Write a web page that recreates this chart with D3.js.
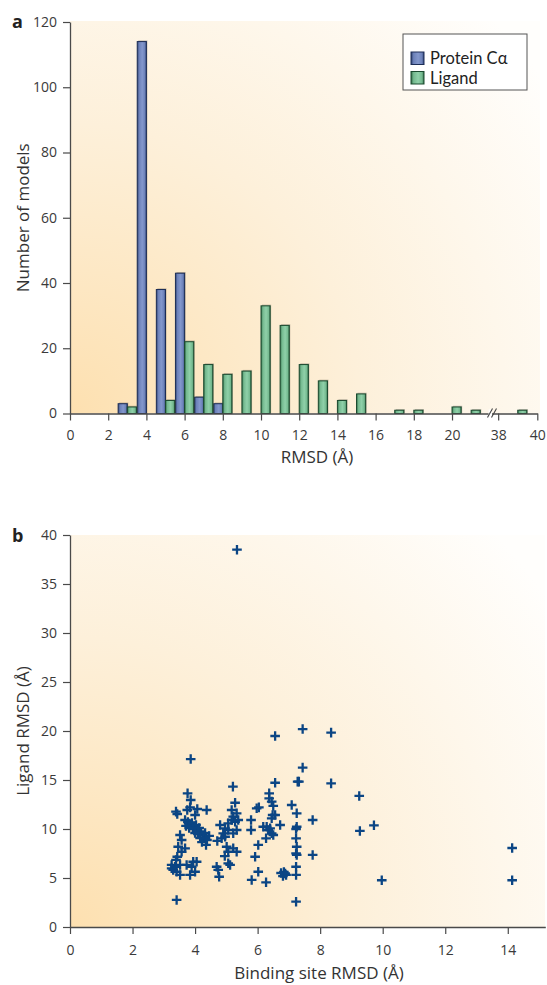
<!DOCTYPE html>
<html>
<head>
<meta charset="utf-8">
<script src="https://cdn.jsdelivr.net/npm/d3@7"></script>
<style>
  body { margin: 0; background: #fff; }
  svg { display: block; font-family: "Open Sans", sans-serif; }
</style>
</head>
<body>
<svg id="fig" width="547" height="985"></svg>
<script>
(function(){
// --- Data: panel a (histogram) ---
const proteinBins = [3, 4, 5, 6, 7, 8];
const proteinCounts = [3, 114, 38, 43, 5, 3];
const ligandBins = [3, 5, 6, 7, 8, 9, 10, 11, 12, 13, 14, 15, 17, 18, 20, 21, 39];
const ligandCounts = [2, 4, 22, 15, 12, 13, 33, 27, 15, 10, 4, 6, 1, 1, 2, 1, 1];
const histXTicks = [0, 2, 4, 6, 8, 10, 12, 14, 16, 18, 20, 38, 40];
const histYTicks = [0, 20, 40, 60, 80, 100, 120];
const legendLabels = ["Protein C\u03b1", "Ligand"];

// --- Data: panel b (scatter) ---
const siteRmsd = [
  3.86, 5.21, 3.76, 3.86, 5.28, 3.39, 3.43, 3.75, 3.84, 4.07, 4.37, 4.00,
  3.68, 3.77, 3.84, 3.90, 3.97, 4.03, 3.93, 4.06, 4.13, 4.19, 4.09, 4.25, 4.32, 4.29, 4.38, 4.22, 4.35, 4.45, 4.16, 4.00, 3.81, 3.71,
  5.17, 5.22, 5.33, 5.17, 5.28, 5.06, 5.38, 4.80, 4.96, 5.06, 4.90, 4.85, 4.96, 5.33, 5.22, 4.71, 5.01, 5.22, 5.33, 5.06, 4.95, 5.06, 5.12, 4.69, 4.74, 4.77,
  3.52, 3.57, 3.46, 3.68, 3.57, 3.43, 3.39,
  3.25, 3.36, 3.52, 3.30, 3.41, 3.52, 3.25, 3.94, 4.05, 3.89, 4.00, 3.84, 3.73, 3.41,
  6.56, 7.44, 8.35, 7.44, 6.56, 7.28, 7.32, 8.35, 9.25, 6.37, 6.37, 6.45, 5.97, 6.04, 6.50, 7.09, 7.25, 6.48, 6.56, 6.45,
  7.76, 5.79, 5.79, 6.72, 6.18, 6.29, 6.34, 6.40, 6.45, 6.50, 6.27, 7.25, 7.23, 7.76, 7.23, 7.25, 7.23, 7.25, 7.23, 7.23,
  6.75, 6.84, 6.91, 6.81, 6.88, 6.02, 5.92, 6.02, 5.81, 6.27, 7.23,
  9.27, 9.72, 9.97, 14.14, 14.14, 5.34
];
const ligandRmsd = [
  17.14, 14.32, 13.64, 12.96, 12.68, 11.77, 11.53, 11.94, 12.21, 12.04, 11.94, 11.43,
  10.92, 10.71, 10.51, 10.61, 10.31, 10.41, 10.0, 9.9, 10.1, 9.69, 9.49, 9.39, 9.59, 9.08, 8.88, 8.67, 8.37, 9.29, 9.08, 9.59, 10.1, 10.31,
  11.94, 11.26, 11.6, 10.92, 10.74, 10.58, 10.92, 10.41, 10.07, 9.9, 9.56, 9.05, 9.21, 9.9, 9.56, 8.78, 8.19, 8.03, 7.68, 7.68, 7.24, 6.5, 6.33, 6.15, 5.82, 5.13,
  9.39, 8.88, 8.19, 8.03, 7.68, 7.17, 6.84,
  6.33, 6.15, 6.33, 5.82, 5.64, 5.31, 5.99, 6.66, 6.66, 6.15, 5.64, 5.31, 6.33, 2.76,
  19.49, 20.2, 19.83, 16.26, 14.72, 14.83, 14.83, 14.66, 13.37, 13.64, 13.13, 12.79, 12.11, 12.21, 12.35, 12.45, 11.6, 11.43, 11.43, 11.09,
  10.92, 10.92, 9.9, 10.41, 10.23, 10.23, 9.9, 10.07, 9.56, 9.39, 9.05, 10.23, 10.0, 7.35, 9.05, 8.19, 7.52, 7.35, 6.15, 5.31,
  5.51, 5.61, 5.31, 5.2, 5.46, 8.37, 7.17, 5.64, 4.8, 4.56, 2.58,
  9.8, 10.38, 4.77, 8.06, 4.77, 38.5
];
const scatterXTicks = [0, 2, 4, 6, 8, 10, 12, 14];
const scatterYTicks = [0, 5, 10, 15, 20, 25, 30, 35, 40];

const svg = d3.select("#fig");
const defs = svg.append("defs");

// --- Gradients ---
function bgGradient(id, cx, cy) {
  const g = defs.append("radialGradient").attr("id", id)
    .attr("gradientUnits", "userSpaceOnUse")
    .attr("cx", cx).attr("cy", cy).attr("r", 580);
  g.append("stop").attr("offset", 0).attr("stop-color", "#fde0b0");
  g.append("stop").attr("offset", 0.5).attr("stop-color", "#fdf0da");
  g.append("stop").attr("offset", 1).attr("stop-color", "#fffefc");
}
bgGradient("bgA", 70, 414);
bgGradient("bgB", 70, 927);

function barGradient(id, edge, mid, light) {
  const g = defs.append("linearGradient").attr("id", id)
    .attr("x1", 0).attr("x2", 1).attr("y1", 0).attr("y2", 0);
  g.append("stop").attr("offset", 0).attr("stop-color", edge);
  g.append("stop").attr("offset", 0.2).attr("stop-color", mid);
  g.append("stop").attr("offset", 0.55).attr("stop-color", light);
  g.append("stop").attr("offset", 0.85).attr("stop-color", mid);
  g.append("stop").attr("offset", 1).attr("stop-color", edge);
}
barGradient("gBlue", "#2a3d6e", "#6c81b9", "#8397cc");
barGradient("gGreen", "#2f6a47", "#74b98f", "#8fd0a9");

// =================== Panel a ===================
const a = { left: 70, right: 537, top: 22, bottom: 413.5 };

const xA = d3.scaleLinear()
  .domain([0, 21.8, 37.7, 40])
  .range([70, 486.4, 492.3, 537.3]);
const yA = d3.scaleLinear().domain([0, 120]).range([a.bottom, a.top]);

svg.append("rect")
  .attr("x", a.left).attr("y", a.top - 1)
  .attr("width", 540 - a.left).attr("height", a.bottom - a.top + 1)
  .attr("fill", "url(#bgA)");

const bw = xA(0.48) - xA(0);

const protein = proteinBins.map((b, i) => ({ bin: b, n: proteinCounts[i] }));
const ligand = ligandBins.map((b, i) => ({ bin: b, n: ligandCounts[i] }));

function drawBars(data, side, fillId, stroke) {
  const g = svg.append("g");
  // soft shadow
  g.selectAll("rect.sh").data(data).enter().append("rect")
    .attr("x", d => (side < 0 ? xA(d.bin) - bw : xA(d.bin)) + 1)
    .attr("y", d => yA(d.n) - 1.2)
    .attr("width", bw)
    .attr("height", d => yA(0) - yA(d.n) + 1.2)
    .attr("fill", "rgba(90,80,70,0.35)");
  g.selectAll("rect.bar").data(data).enter().append("rect")
    .attr("x", d => side < 0 ? xA(d.bin) - bw : xA(d.bin))
    .attr("y", d => yA(d.n))
    .attr("width", bw)
    .attr("height", d => yA(0) - yA(d.n))
    .attr("fill", `url(#${fillId})`)
    .attr("stroke", stroke)
    .attr("stroke-width", 1);
}
drawBars(protein, -1, "gBlue", "#1c2d56");
drawBars(ligand, 1, "gGreen", "#1b4a2f");

// axes
const axA_x = svg.append("g")
  .attr("transform", `translate(0,${a.bottom})`)
  .call(d3.axisBottom(xA).tickValues(histXTicks).tickSize(7).tickPadding(10).tickSizeOuter(0));
const axA_y = svg.append("g")
  .attr("transform", `translate(${a.left},0)`)
  .call(d3.axisLeft(yA).tickValues(histYTicks).tickSize(7).tickPadding(6).tickSizeOuter(0));

// axis break marks
const brk = svg.append("g").attr("stroke", "#444").attr("stroke-width", 1.1);
brk.append("rect").attr("x", 488.6).attr("y", a.bottom - 4).attr("width", 3.4).attr("height", 8)
  .attr("fill", "#fff").attr("stroke", "none");
[487.5, 491.5].forEach(x0 => {
  brk.append("line").attr("x1", x0).attr("y1", a.bottom + 4).attr("x2", x0 + 5).attr("y2", a.bottom - 5);
});

svg.append("text").attr("x", 12).attr("y", 28)
  .attr("font-size", 18).attr("font-weight", "bold").attr("fill", "#222").text("a");

svg.append("text")
  .attr("transform", `translate(29,${(a.top + a.bottom) / 2}) rotate(-90)`)
  .attr("text-anchor", "middle").attr("font-size", 17).attr("fill", "#333")
  .text("Number of models");
svg.append("text").attr("x", 317).attr("y", 463)
  .attr("text-anchor", "middle").attr("font-size", 17).attr("fill", "#333")
  .text("RMSD (\u00c5)");

// legend
const lg = svg.append("g");
lg.append("rect").attr("x", 403).attr("y", 34).attr("width", 124).attr("height", 56)
  .attr("fill", "#fff").attr("stroke", "#555").attr("stroke-width", 1);
[["gBlue", "#1c2d56"], ["gGreen", "#1b4a2f"]].forEach((s, i) => {
  lg.append("rect").attr("x", 411).attr("y", 52 + i * 19.5).attr("width", 13).attr("height", 12.5)
    .attr("fill", `url(#${s[0]})`).attr("stroke", s[1]);
  lg.append("text").attr("x", 430).attr("y", 64 + i * 19.5)
    .attr("font-family", "Lato, sans-serif")
    .attr("font-size", 16.5).attr("fill", "#222").text(legendLabels[i]);
});

// =================== Panel b ===================
const b = { left: 70, right: 545, top: 535, bottom: 927 };
const xB = d3.scaleLinear().domain([0, 15.2]).range([b.left, b.left + 15.2 * 31.27]);
const yB = d3.scaleLinear().domain([0, 40]).range([b.bottom, b.top]);

svg.append("rect")
  .attr("x", b.left).attr("y", b.top)
  .attr("width", b.right - b.left).attr("height", b.bottom - b.top)
  .attr("fill", "url(#bgB)");

const pts = siteRmsd.map((x, i) => ({ x: x, y: ligandRmsd[i] }));
svg.append("g").selectAll("path").data(pts).enter().append("path")
  .attr("transform", d => `translate(${xB(d.x)},${yB(d.y)})`)
  .attr("d", "M-4.8,0H4.8M0,-4.8V4.8")
  .attr("stroke", "#0b4584").attr("stroke-width", 2.3).attr("fill", "none");

const axB_x = svg.append("g")
  .attr("transform", `translate(0,${b.bottom})`)
  .call(d3.axisBottom(xB).tickValues(scatterXTicks).tickSize(7).tickPadding(11).tickSizeOuter(0));
const axB_y = svg.append("g")
  .attr("transform", `translate(${b.left},0)`)
  .call(d3.axisLeft(yB).tickValues(scatterYTicks).tickSize(7).tickPadding(6).tickSizeOuter(0));

svg.append("text").attr("x", 12).attr("y", 542)
  .attr("font-size", 18).attr("font-weight", "bold").attr("fill", "#222").text("b");
svg.append("text")
  .attr("transform", `translate(29,${(b.top + b.bottom) / 2}) rotate(-90)`)
  .attr("text-anchor", "middle").attr("font-size", 17).attr("fill", "#333")
  .text("Ligand RMSD (\u00c5)");
svg.append("text").attr("x", 319).attr("y", 979)
  .attr("text-anchor", "middle").attr("font-size", 17).attr("fill", "#333")
  .text("Binding site RMSD (\u00c5)");

// axis styling
[axA_x, axA_y, axB_x, axB_y].forEach(ax => {
  ax.select(".domain").attr("stroke", "#4a4a4a").attr("stroke-width", 1.3);
  ax.selectAll(".tick line").attr("stroke", "#4a4a4a").attr("stroke-width", 1.2);
  ax.selectAll(".tick text").attr("font-size", 14).attr("fill", "#3a3a3a")
    .attr("font-family", "'Open Sans', sans-serif");
});
})();
</script>
</body>
</html>
